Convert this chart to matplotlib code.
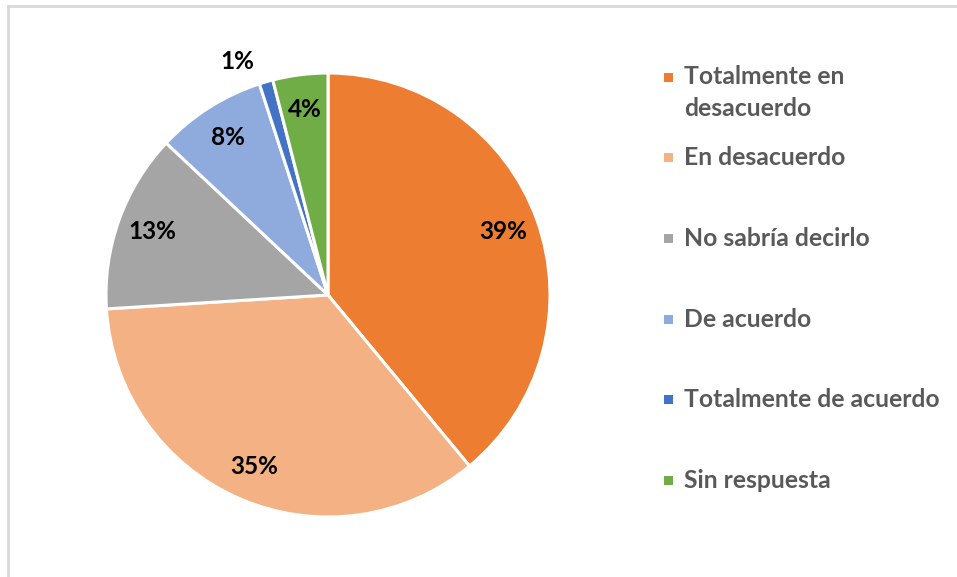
import numpy as np
import matplotlib

matplotlib.use("Agg")
import matplotlib.pyplot as plt
from matplotlib.lines import Line2D
from matplotlib.patches import Rectangle

categories = [
    "Totalmente en\ndesacuerdo",
    "En desacuerdo",
    "No sabría decirlo",
    "De acuerdo",
    "Totalmente de acuerdo",
    "Sin respuesta",
]
values = [39, 35, 13, 8, 1, 4]
colors = ["#ED7D31", "#F4B183", "#A5A5A5", "#8FAADC", "#4472C4", "#70AD47"]

FONT = ["Lato", "DejaVu Sans"]
TEXT_GRAY = "#595959"

W, H = 957, 577
fig = plt.figure(figsize=(W / 100, H / 100), dpi=100)

# pie centre (328, 295) px, radius 222 px
cx, cy, r = 328, 295, 222
ax = fig.add_axes([(cx - r) / W, (H - cy - r) / H, 2 * r / W, 2 * r / H])
wedges, _ = ax.pie(
    values,
    colors=colors,
    startangle=90,
    counterclock=False,
    radius=1.0,
    wedgeprops=dict(edgecolor="white", linewidth=2.2),
)
ax.set_xlim(-1, 1)
ax.set_ylim(-1, 1)
ax.set_aspect("equal")
ax.axis("off")

# data labels
for w, v in zip(wedges, values):
    mid = np.deg2rad((w.theta1 + w.theta2) / 2)
    dist = 0.84
    if v < 3:
        mid += np.deg2rad(5)
        dist = 1.13
    ax.text(dist * np.cos(mid), dist * np.sin(mid), f"{v}%",
            ha="center", va="center", fontsize=17.5, fontweight="bold",
            color="black", family=FONT)

# legend, drawn in figure pixels
leg_x = 668
row_y0 = 77
row_step = 80.7
for i, (lab, col) in enumerate(zip(categories, colors)):
    y = row_y0 + i * row_step
    fig.patches.append(Rectangle(((leg_x - 4) / W, (H - y - 4.5) / H), 9 / W, 9 / H,
                                 transform=fig.transFigure, facecolor=col,
                                 edgecolor="none"))
    for j, line in enumerate(lab.split("\n")):
        fig.text((leg_x + 16) / W, (H - y - j * 31) / H, line,
                 ha="left", va="center", fontsize=17.8, fontweight="bold",
                 color=TEXT_GRAY, family=FONT)

# chart frame (top and left edges visible)
fig.add_artist(Line2D([8 / W, 1], [1 - 6 / H, 1 - 6 / H], transform=fig.transFigure,
                      color="#D9D9D9", linewidth=2))
fig.add_artist(Line2D([8 / W, 8 / W], [0, 1 - 6 / H], transform=fig.transFigure,
                      color="#D9D9D9", linewidth=2))

fig.savefig("out.png", dpi=100)
